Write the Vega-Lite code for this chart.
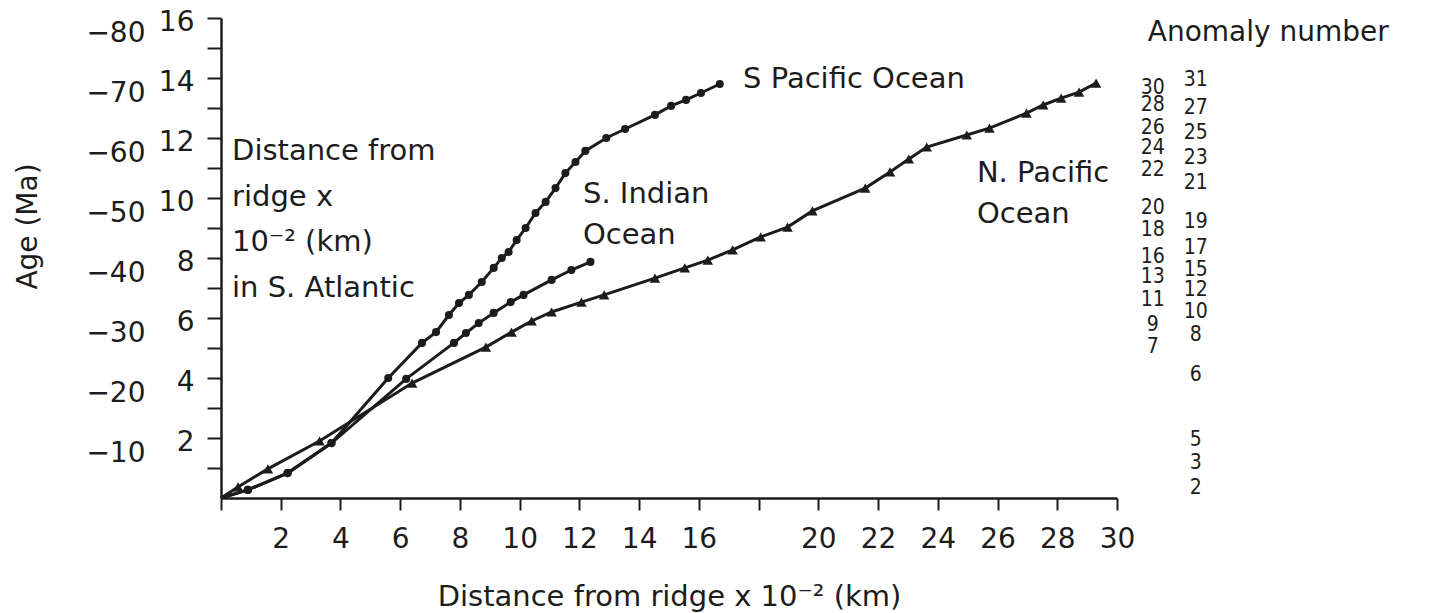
{
  "$schema": "https://vega.github.io/schema/vega-lite/v6.json",
  "width": 896,
  "height": 480,
  "autosize": "none",
  "padding": {"left": 221, "top": 18, "right": 330, "bottom": 115},
  "background": "white",
  "config": {
    "view": {"stroke": null},
    "font": "DejaVu Sans",
    "axis": {"labelFont": "DejaVu Sans", "titleFont": "DejaVu Sans", "grid": false}
  },
  "datasets": {
    "pts": [
      {"series": "S Pacific", "x": 0, "y": 0},
      {"series": "S Pacific", "x": 0.9, "y": 0.27},
      {"series": "S Pacific", "x": 2.23, "y": 0.83},
      {"series": "S Pacific", "x": 3.7, "y": 1.83},
      {"series": "S Pacific", "x": 5.6, "y": 4.0},
      {"series": "S Pacific", "x": 6.73, "y": 5.17},
      {"series": "S Pacific", "x": 7.2, "y": 5.53},
      {"series": "S Pacific", "x": 7.63, "y": 6.1},
      {"series": "S Pacific", "x": 7.97, "y": 6.5},
      {"series": "S Pacific", "x": 8.3, "y": 6.77},
      {"series": "S Pacific", "x": 8.73, "y": 7.2},
      {"series": "S Pacific", "x": 9.13, "y": 7.67},
      {"series": "S Pacific", "x": 9.4, "y": 8.0},
      {"series": "S Pacific", "x": 9.63, "y": 8.2},
      {"series": "S Pacific", "x": 9.9, "y": 8.6},
      {"series": "S Pacific", "x": 10.2, "y": 9.0},
      {"series": "S Pacific", "x": 10.53, "y": 9.5},
      {"series": "S Pacific", "x": 10.87, "y": 9.87},
      {"series": "S Pacific", "x": 11.2, "y": 10.33},
      {"series": "S Pacific", "x": 11.53, "y": 10.83},
      {"series": "S Pacific", "x": 11.87, "y": 11.2},
      {"series": "S Pacific", "x": 12.2, "y": 11.57},
      {"series": "S Pacific", "x": 12.9, "y": 12.0},
      {"series": "S Pacific", "x": 13.53, "y": 12.3},
      {"series": "S Pacific", "x": 14.53, "y": 12.77},
      {"series": "S Pacific", "x": 15.07, "y": 13.07},
      {"series": "S Pacific", "x": 15.57, "y": 13.27},
      {"series": "S Pacific", "x": 16.07, "y": 13.5},
      {"series": "S Pacific", "x": 16.7, "y": 13.8},
      {"series": "S Indian", "x": 0, "y": 0},
      {"series": "S Indian", "x": 0.9, "y": 0.27},
      {"series": "S Indian", "x": 2.23, "y": 0.83},
      {"series": "S Indian", "x": 3.7, "y": 1.83},
      {"series": "S Indian", "x": 6.2, "y": 3.97},
      {"series": "S Indian", "x": 7.8, "y": 5.17},
      {"series": "S Indian", "x": 8.2, "y": 5.5},
      {"series": "S Indian", "x": 8.63, "y": 5.83},
      {"series": "S Indian", "x": 9.13, "y": 6.17},
      {"series": "S Indian", "x": 9.7, "y": 6.53},
      {"series": "S Indian", "x": 10.13, "y": 6.77},
      {"series": "S Indian", "x": 11.07, "y": 7.27},
      {"series": "S Indian", "x": 11.73, "y": 7.6},
      {"series": "S Indian", "x": 12.37, "y": 7.87},
      {"series": "N Pacific", "x": 0, "y": 0},
      {"series": "N Pacific", "x": 0.57, "y": 0.37},
      {"series": "N Pacific", "x": 1.57, "y": 0.97},
      {"series": "N Pacific", "x": 3.3, "y": 1.9},
      {"series": "N Pacific", "x": 6.4, "y": 3.83},
      {"series": "N Pacific", "x": 8.87, "y": 5.03},
      {"series": "N Pacific", "x": 9.73, "y": 5.53},
      {"series": "N Pacific", "x": 10.4, "y": 5.9},
      {"series": "N Pacific", "x": 11.07, "y": 6.2},
      {"series": "N Pacific", "x": 12.07, "y": 6.53},
      {"series": "N Pacific", "x": 12.83, "y": 6.77},
      {"series": "N Pacific", "x": 14.53, "y": 7.33},
      {"series": "N Pacific", "x": 15.53, "y": 7.67},
      {"series": "N Pacific", "x": 16.3, "y": 7.93},
      {"series": "N Pacific", "x": 17.13, "y": 8.27},
      {"series": "N Pacific", "x": 18.07, "y": 8.7},
      {"series": "N Pacific", "x": 18.97, "y": 9.03},
      {"series": "N Pacific", "x": 19.8, "y": 9.57},
      {"series": "N Pacific", "x": 21.57, "y": 10.33},
      {"series": "N Pacific", "x": 22.4, "y": 10.87},
      {"series": "N Pacific", "x": 23.03, "y": 11.3},
      {"series": "N Pacific", "x": 23.63, "y": 11.7},
      {"series": "N Pacific", "x": 24.97, "y": 12.1},
      {"series": "N Pacific", "x": 25.73, "y": 12.33},
      {"series": "N Pacific", "x": 26.97, "y": 12.83},
      {"series": "N Pacific", "x": 27.53, "y": 13.1},
      {"series": "N Pacific", "x": 28.13, "y": 13.33},
      {"series": "N Pacific", "x": 28.73, "y": 13.53},
      {"series": "N Pacific", "x": 29.3, "y": 13.83}
    ],
    "atlantic": [
      {"x": 0.37, "y": 11.27, "text": ["Distance from", "ridge x", "10⁻² (km)", "in S. Atlantic"]}
    ],
    "notes": [
      {"x": 12.12, "y": 9.83, "text": ["S. Indian", "Ocean"]},
      {"x": 17.48, "y": 13.67, "text": ["S  Pacific Ocean"]},
      {"x": 25.31, "y": 10.53, "text": ["N. Pacific", "Ocean"]}
    ],
    "anomalies": [
      {"x": 32.64, "y": 13.93, "label": "31"},
      {"x": 31.2, "y": 13.67, "label": "30"},
      {"x": 31.2, "y": 13.1, "label": "28"},
      {"x": 32.64, "y": 13.0, "label": "27"},
      {"x": 31.2, "y": 12.33, "label": "26"},
      {"x": 32.64, "y": 12.17, "label": "25"},
      {"x": 31.2, "y": 11.67, "label": "24"},
      {"x": 32.64, "y": 11.33, "label": "23"},
      {"x": 31.2, "y": 10.93, "label": "22"},
      {"x": 32.64, "y": 10.5, "label": "21"},
      {"x": 31.2, "y": 9.67, "label": "20"},
      {"x": 32.64, "y": 9.2, "label": "19"},
      {"x": 31.2, "y": 8.93, "label": "18"},
      {"x": 32.64, "y": 8.33, "label": "17"},
      {"x": 31.2, "y": 8.03, "label": "16"},
      {"x": 32.64, "y": 7.6, "label": "15"},
      {"x": 31.2, "y": 7.37, "label": "13"},
      {"x": 32.64, "y": 6.93, "label": "12"},
      {"x": 31.2, "y": 6.6, "label": "11"},
      {"x": 32.64, "y": 6.2, "label": "10"},
      {"x": 31.2, "y": 5.77, "label": "9"},
      {"x": 32.64, "y": 5.43, "label": "8"},
      {"x": 31.2, "y": 5.03, "label": "7"},
      {"x": 32.64, "y": 4.1, "label": "6"},
      {"x": 32.64, "y": 1.93, "label": "5"},
      {"x": 32.64, "y": 1.17, "label": "3"},
      {"x": 32.64, "y": 0.33, "label": "2"}
    ],
    "heading": [
      {"x": 31.03, "y": 15.5, "text": "Anomaly number"}
    ]
  },
  "encoding": {
    "x": {
      "field": "x",
      "type": "quantitative",
      "scale": {"domain": [0, 30], "nice": false, "zero": false},
      "axis": {
        "values": [0, 2, 4, 6, 8, 10, 12, 14, 16, 18, 20, 22, 24, 26, 28, 30],
        "labelExpr": "datum.value == 0 || datum.value == 18 ? '' : datum.label",
        "tickSize": 12,
        "tickWidth": 2,
        "tickColor": "#1c1c1c",
        "domainColor": "#1c1c1c",
        "domainWidth": 2.5,
        "labelFontSize": 28,
        "labelColor": "#1c1c1c",
        "labelPadding": 15,
        "labelFlush": false,
        "labelOverlap": false,
        "title": "Distance from ridge x 10⁻² (km)",
        "titleFontSize": 29,
        "titleFontWeight": "normal",
        "titleColor": "#1c1c1c",
        "titleY": 107,
        "titleBaseline": "alphabetic"
      }
    },
    "y": {
      "field": "y",
      "type": "quantitative",
      "scale": {"domain": [0, 16], "nice": false, "zero": false},
      "axis": null
    }
  },
  "layer": [
    {
      "data": {"name": "pts"},
      "mark": {"type": "line", "color": "#1c1c1c", "strokeWidth": 3},
      "encoding": {
        "detail": {"field": "series", "type": "nominal"},
        "y": {
          "field": "y",
          "type": "quantitative",
          "scale": {"domain": [0, 16], "nice": false, "zero": false},
          "axis": {
            "orient": "left",
            "values": [1, 2, 3, 4, 5, 6, 7, 8, 9, 10, 11, 12, 13, 14, 15, 16],
            "labelExpr": "datum.value % 2 == 0 ? datum.label : ''",
            "tickSize": 14,
            "tickWidth": 2,
            "tickColor": "#1c1c1c",
            "domainColor": "#1c1c1c",
            "domainWidth": 2.5,
            "labelFontSize": 28,
            "labelColor": "#1c1c1c",
            "labelPadding": 13,
            "labelOffset": 4,
            "labelFlush": false,
            "labelOverlap": false,
            "title": null
          }
        }
      }
    },
    {
      "data": {"name": "pts"},
      "transform": [{"filter": "datum.series != 'N Pacific' && datum.x > 0"}],
      "mark": {"type": "circle", "color": "#1c1c1c", "size": 65, "opacity": 1}
    },
    {
      "data": {"name": "pts"},
      "transform": [{"filter": "datum.series == 'N Pacific' && datum.x > 0"}],
      "mark": {"type": "point", "shape": "triangle-up", "filled": true, "color": "#1c1c1c", "size": 110, "opacity": 1}
    },
    {
      "data": {"name": "pts"},
      "mark": {"type": "point", "opacity": 0},
      "encoding": {
        "y": {
          "field": "y",
          "type": "quantitative",
          "scale": {"domain": [0, 16], "nice": false, "zero": false},
          "axis": {
            "orient": "left",
            "values": [2, 4, 6, 8, 10, 12, 14, 16],
            "labelExpr": "'−' + (datum.value * 5)",
            "ticks": false,
            "tickSize": 0,
            "domain": false,
            "labelFontSize": 28,
            "labelColor": "#1c1c1c",
            "labelPadding": 76,
            "labelOffset": 15,
            "labelFlush": false,
            "labelOverlap": false,
            "title": "Age (Ma)",
            "titleFontSize": 28,
            "titleFontWeight": "normal",
            "titleColor": "#1c1c1c",
            "titleX": -193,
            "titleY": 208,
            "titleAngle": 270,
            "titleAlign": "center",
            "titleBaseline": "middle"
          }
        }
      }
    },
    {
      "data": {"name": "atlantic"},
      "mark": {"type": "text", "align": "left", "baseline": "alphabetic", "fontSize": 29, "lineHeight": 45.7, "color": "#1c1c1c"},
      "encoding": {
        "text": {"field": "text"}
      }
    },
    {
      "data": {"name": "notes"},
      "mark": {"type": "text", "align": "left", "baseline": "alphabetic", "fontSize": 29, "lineHeight": 41, "color": "#1c1c1c"},
      "encoding": {
        "text": {"field": "text"}
      }
    },
    {
      "data": {"name": "anomalies"},
      "mark": {"type": "text", "align": "center", "baseline": "middle", "fontSize": 21, "font": "DejaVu Sans Condensed", "color": "#1c1c1c"},
      "encoding": {
        "text": {"field": "label"}
      }
    },
    {
      "data": {"name": "heading"},
      "mark": {"type": "text", "align": "left", "baseline": "middle", "fontSize": 28, "color": "#1c1c1c"},
      "encoding": {
        "text": {"field": "text"}
      }
    }
  ],
  "resolve": {"axis": {"y": "independent"}}
}
